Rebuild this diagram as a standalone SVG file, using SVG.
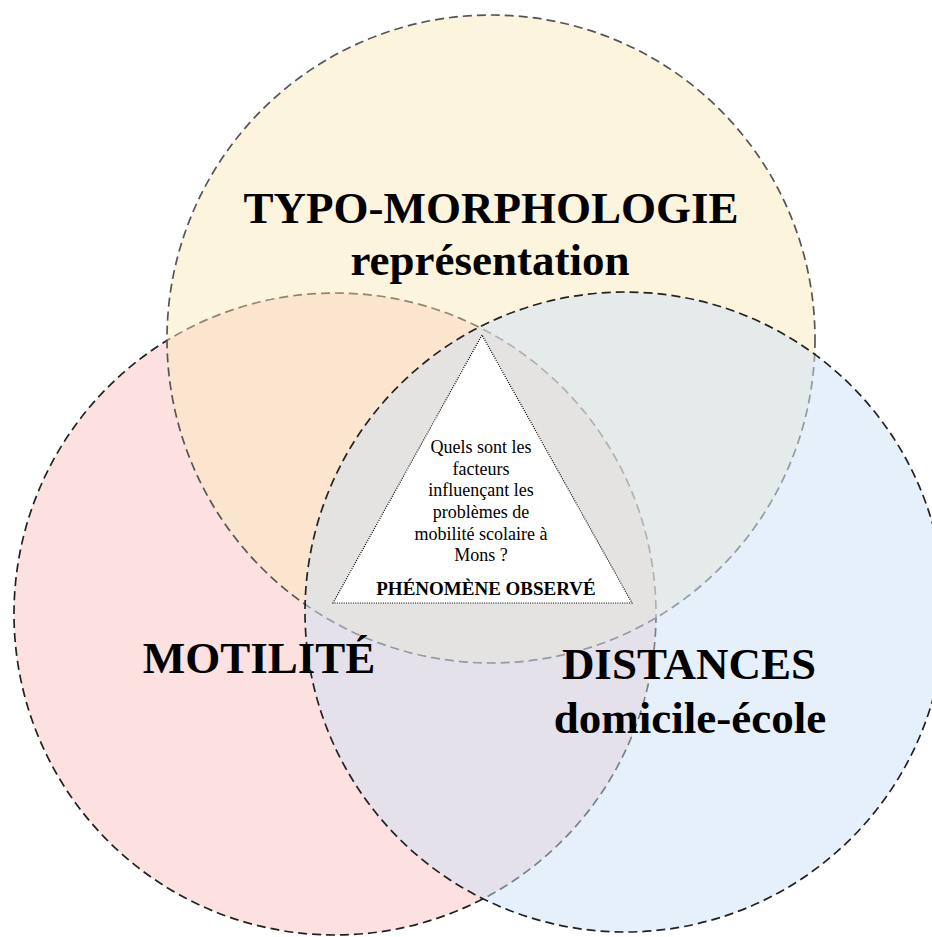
<svg xmlns="http://www.w3.org/2000/svg" width="932" height="937" viewBox="0 0 932 937">
<style>
  .ring{stroke-width:1.7;stroke-dasharray:9 5}
  .big{font-family:"Liberation Serif","Times New Roman",serif;font-weight:bold;font-size:45px;fill:#000;text-anchor:middle}
  .q{font-family:"Liberation Serif","Times New Roman",serif;font-size:18px;fill:#000;text-anchor:middle}
  .ph{font-family:"Liberation Serif","Times New Roman",serif;font-weight:bold;font-size:19px;fill:#000;text-anchor:middle}
</style>
<rect width="932" height="937" fill="#fff"/>
<g id="motilite">
  <circle class="ring" cx="335" cy="614" r="321" fill="#fde1e1" stroke="#222"/>
</g>
<g id="typo-morphologie">
  <circle class="ring" cx="491" cy="339" r="324" fill="#fbe9bd" fill-opacity="0.5" stroke="#555"/>
</g>
<g id="distances">
  <circle class="ring" cx="625" cy="612" r="320" fill="#cde1f5" fill-opacity="0.5" stroke="#222"/>
</g>
<g id="connectors"></g>
<g id="labels">
  <text class="big" x="491" y="223">TYPO-MORPHOLOGIE</text>
  <text class="big" x="490" y="275">représentation</text>
  <text class="big" x="259" y="673">MOTILITÉ</text>
  <text class="big" x="689" y="679">DISTANCES</text>
  <text class="big" x="690" y="733">domicile-école</text>
</g>
<g id="phenomene">
  <polygon points="482,335 333,603 632,603" fill="#fff" stroke="#000" stroke-width="1.2" stroke-dasharray="1 1.3"/>
  <text class="q" x="481" y="453">Quels sont les</text>
  <text class="q" x="481" y="475">facteurs</text>
  <text class="q" x="481" y="496">influençant les</text>
  <text class="q" x="481" y="518">problèmes de</text>
  <text class="q" x="481" y="540">mobilité scolaire à</text>
  <text class="q" x="481" y="561">Mons ?</text>
  <text class="ph" x="486" y="595">PHÉNOMÈNE OBSERVÉ</text>
</g>
</svg>
